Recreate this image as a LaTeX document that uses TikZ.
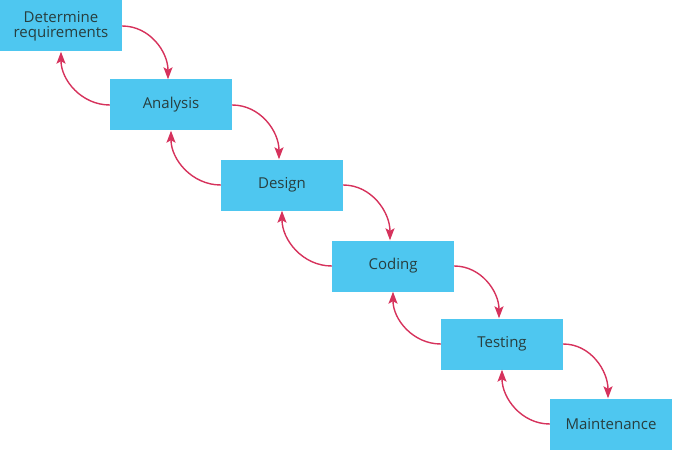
\documentclass[tikz,border=0pt]{standalone}
\usepackage{fontspec}
\setmainfont{Open Sans}
\usetikzlibrary{arrows.meta}

\definecolor{boxblue}{RGB}{78,199,240}
\definecolor{arrowred}{RGB}{214,50,92}
\definecolor{textgrey}{RGB}{40,62,62}

\tikzset{
	stage/.style={fill=boxblue, draw=none, minimum width=122pt, minimum height=51pt,
		align=center, text=textgrey, font=\fontsize{15}{18}\selectfont},
	flow/.style={draw=arrowred, line width=1.4pt, -{Stealth[length=12pt, width=9pt, inset=2.5pt, fill=arrowred]}}
}

\begin{document}
\begin{tikzpicture}[x=1pt, y=-1pt]
	\useasboundingbox (0,0) rectangle (673,452);

	% Stages
	\node[stage] (req) at (61,26)  {Determine\\[-3pt]requirements};
	\node[stage] (ana) at (171,105) {Analysis};
	\node[stage] (des) at (282,185) {Design};
	\node[stage] (cod) at (393,266) {Coding};
	\node[stage] (tes) at (502,344) {Testing};
	\node[stage] (mai) at (611,424) {Maintenance};

	% Forward and back arrows
	\foreach \a/\b in {req/ana, ana/des, des/cod, cod/tes, tes/mai}
	{
	\draw[flow] (\a.east) to[out=0, in=90] ([xshift=-3pt]\b.north);
	\draw[flow] (\b.west) to[out=180, in=-90] (\a.south);
	}
\end{tikzpicture}
\end{document}
